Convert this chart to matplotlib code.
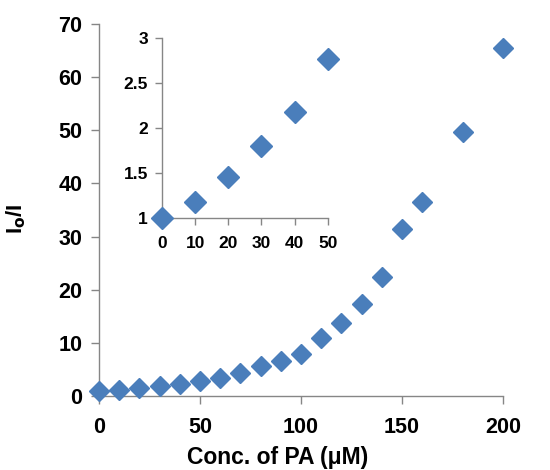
import matplotlib
matplotlib.use("Agg")
import matplotlib.pyplot as plt

plt.rcParams['font.family'] = ['Liberation Sans', 'DejaVu Sans']
plt.rcParams['font.weight'] = 'bold'

# Main titration data
conc = [0, 10, 20, 30, 40, 50, 60, 70, 80, 90, 100, 110, 120, 130, 140, 150, 160, 180, 200]
ratio = [1.0, 1.17, 1.45, 1.8, 2.17, 2.76, 3.4, 4.3, 5.6, 6.5, 8.0, 10.9, 13.8, 17.3, 22.3,
         31.4, 36.5, 49.6, 65.4]

# Low-concentration region for the inset
conc_low = [0, 10, 20, 30, 40, 50]
ratio_low = [1.0, 1.17, 1.45, 1.8, 2.17, 2.76]

main_xticks = [0, 50, 100, 150, 200]
main_yticks = [0, 10, 20, 30, 40, 50, 60, 70]
inset_xticks = [0, 10, 20, 30, 40, 50]
inset_yticks = [1, 1.5, 2, 2.5, 3]
inset_yticklabels = ['1', '1.5', '2', '2.5', '3']

blue = '#4a7ebb'
spine_gray = '#868686'

fig = plt.figure(figsize=(5.5, 4.7), dpi=100)
ax = fig.add_axes([0.18, 0.1574, 0.7345, 0.7916])


def style(a, size):
    for s in ['top', 'right']:
        a.spines[s].set_visible(False)
    for s in ['left', 'bottom']:
        a.spines[s].set_color(spine_gray)
        a.spines[s].set_linewidth(1.0)
    a.tick_params(direction='out', length=6, width=1.0, color=spine_gray,
                  labelsize=size, labelcolor='black')
    for lab in a.get_xticklabels() + a.get_yticklabels():
        lab.set_fontweight('bold')


ax.plot(conc, ratio, linestyle='none', marker='D', markersize=10.5,
        color=blue, clip_on=False, zorder=5)
ax.set_xlim(0, 200)
ax.set_ylim(0, 70)
ax.set_xticks(main_xticks)
ax.set_yticks(main_yticks)
style(ax, 15.5)
ax.tick_params(axis='x', pad=9)
ax.tick_params(axis='y', pad=6)
ax.set_xlabel('Conc. of PA (μM)', fontsize=16.5, fontweight='bold')
ax.set_ylabel(r'I$_\mathbf{o}$/I', fontsize=16, fontweight='bold')
ax.xaxis.set_label_coords(0.442, -0.135)
ax.yaxis.set_label_coords(-0.175, 0.476)

ins = fig.add_axes([0.2945, 0.5368, 0.3013, 0.383])
ins.plot(conc_low, ratio_low, linestyle='none', marker='D', markersize=11.5,
         color=blue, clip_on=False, zorder=5)
ins.set_xlim(0, 50)
ins.set_ylim(1, 3)
ins.set_xticks(inset_xticks)
ins.set_yticks(inset_yticks)
ins.set_yticklabels(inset_yticklabels)
ins.patch.set_alpha(0)
style(ins, 12.5)
ins.tick_params(axis='x', pad=8, length=5)
ins.tick_params(axis='y', pad=5, length=5)

fig.savefig('out.png', dpi=100)
